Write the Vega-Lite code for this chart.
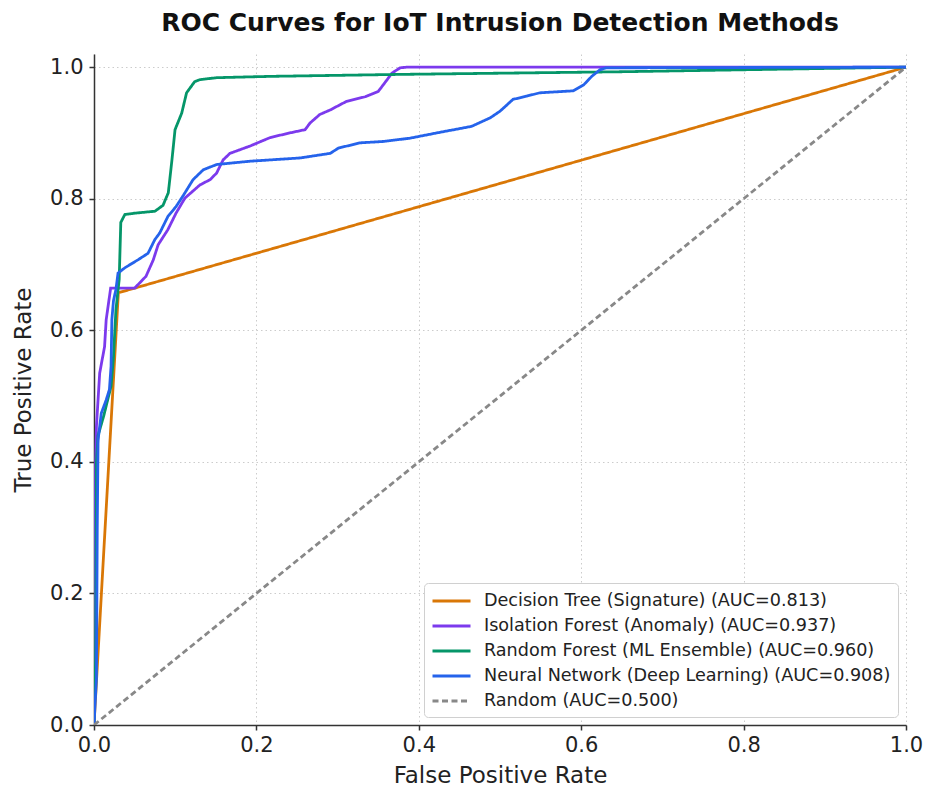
{
  "$schema": "https://vega.github.io/schema/vega-lite/v6.json",
  "width": 812,
  "height": 671,
  "autosize": {"type": "none"},
  "padding": {"left": 94, "top": 54, "right": 21, "bottom": 65},
  "background": "white",
  "config": {
    "view": {"stroke": null},
    "font": "DejaVu Sans",
    "axis": {
      "labelFont": "DejaVu Sans",
      "titleFont": "DejaVu Sans",
      "labelFontSize": 21,
      "titleFontSize": 23,
      "titleFontWeight": "normal",
      "labelColor": "#222",
      "titleColor": "#222",
      "labelFlush": false,
      "domainColor": "#333",
      "domainWidth": 1.5,
      "tickColor": "#333",
      "tickWidth": 1.5,
      "tickSize": 5,
      "gridColor": "#cccccc",
      "gridDash": [1.5, 3],
      "gridWidth": 1
    }
  },
  "title": {
    "text": "ROC Curves for IoT Intrusion Detection Methods",
    "font": "DejaVu Sans",
    "fontSize": 25,
    "fontWeight": "bold",
    "color": "#111",
    "anchor": "middle",
    "offset": 18
  },
  "data": {
    "values": [
      {"method": "Decision Tree (Signature) (AUC=0.813)", "k": 0, "fpr": 0, "tpr": 0},
      {"method": "Decision Tree (Signature) (AUC=0.813)", "k": 1, "fpr": 0.03, "tpr": 0.657},
      {"method": "Decision Tree (Signature) (AUC=0.813)", "k": 2, "fpr": 1, "tpr": 1},

      {"method": "Isolation Forest (Anomaly) (AUC=0.937)", "k": 0, "fpr": 0, "tpr": 0},
      {"method": "Isolation Forest (Anomaly) (AUC=0.937)", "k": 1, "fpr": 0.001, "tpr": 0.2},
      {"method": "Isolation Forest (Anomaly) (AUC=0.937)", "k": 2, "fpr": 0.002, "tpr": 0.4},
      {"method": "Isolation Forest (Anomaly) (AUC=0.937)", "k": 3, "fpr": 0.003, "tpr": 0.454},
      {"method": "Isolation Forest (Anomaly) (AUC=0.937)", "k": 4, "fpr": 0.007, "tpr": 0.535},
      {"method": "Isolation Forest (Anomaly) (AUC=0.937)", "k": 5, "fpr": 0.013, "tpr": 0.575},
      {"method": "Isolation Forest (Anomaly) (AUC=0.937)", "k": 6, "fpr": 0.015, "tpr": 0.616},
      {"method": "Isolation Forest (Anomaly) (AUC=0.937)", "k": 7, "fpr": 0.0205, "tpr": 0.664},
      {"method": "Isolation Forest (Anomaly) (AUC=0.937)", "k": 8, "fpr": 0.05, "tpr": 0.664},
      {"method": "Isolation Forest (Anomaly) (AUC=0.937)", "k": 9, "fpr": 0.064, "tpr": 0.682},
      {"method": "Isolation Forest (Anomaly) (AUC=0.937)", "k": 10, "fpr": 0.073, "tpr": 0.707},
      {"method": "Isolation Forest (Anomaly) (AUC=0.937)", "k": 11, "fpr": 0.079, "tpr": 0.73},
      {"method": "Isolation Forest (Anomaly) (AUC=0.937)", "k": 12, "fpr": 0.091, "tpr": 0.753},
      {"method": "Isolation Forest (Anomaly) (AUC=0.937)", "k": 13, "fpr": 0.101, "tpr": 0.778},
      {"method": "Isolation Forest (Anomaly) (AUC=0.937)", "k": 14, "fpr": 0.112, "tpr": 0.801},
      {"method": "Isolation Forest (Anomaly) (AUC=0.937)", "k": 15, "fpr": 0.1305, "tpr": 0.821},
      {"method": "Isolation Forest (Anomaly) (AUC=0.937)", "k": 16, "fpr": 0.143, "tpr": 0.829},
      {"method": "Isolation Forest (Anomaly) (AUC=0.937)", "k": 17, "fpr": 0.151, "tpr": 0.839},
      {"method": "Isolation Forest (Anomaly) (AUC=0.937)", "k": 18, "fpr": 0.159, "tpr": 0.859},
      {"method": "Isolation Forest (Anomaly) (AUC=0.937)", "k": 19, "fpr": 0.1675, "tpr": 0.869},
      {"method": "Isolation Forest (Anomaly) (AUC=0.937)", "k": 20, "fpr": 0.192, "tpr": 0.88},
      {"method": "Isolation Forest (Anomaly) (AUC=0.937)", "k": 21, "fpr": 0.217, "tpr": 0.893},
      {"method": "Isolation Forest (Anomaly) (AUC=0.937)", "k": 22, "fpr": 0.241, "tpr": 0.9},
      {"method": "Isolation Forest (Anomaly) (AUC=0.937)", "k": 23, "fpr": 0.26, "tpr": 0.905},
      {"method": "Isolation Forest (Anomaly) (AUC=0.937)", "k": 24, "fpr": 0.266, "tpr": 0.915},
      {"method": "Isolation Forest (Anomaly) (AUC=0.937)", "k": 25, "fpr": 0.278, "tpr": 0.928},
      {"method": "Isolation Forest (Anomaly) (AUC=0.937)", "k": 26, "fpr": 0.291, "tpr": 0.935},
      {"method": "Isolation Forest (Anomaly) (AUC=0.937)", "k": 27, "fpr": 0.311, "tpr": 0.948},
      {"method": "Isolation Forest (Anomaly) (AUC=0.937)", "k": 28, "fpr": 0.334, "tpr": 0.955},
      {"method": "Isolation Forest (Anomaly) (AUC=0.937)", "k": 29, "fpr": 0.35, "tpr": 0.963},
      {"method": "Isolation Forest (Anomaly) (AUC=0.937)", "k": 30, "fpr": 0.358, "tpr": 0.976},
      {"method": "Isolation Forest (Anomaly) (AUC=0.937)", "k": 31, "fpr": 0.367, "tpr": 0.991},
      {"method": "Isolation Forest (Anomaly) (AUC=0.937)", "k": 32, "fpr": 0.377, "tpr": 0.999},
      {"method": "Isolation Forest (Anomaly) (AUC=0.937)", "k": 33, "fpr": 0.385, "tpr": 1.0},
      {"method": "Isolation Forest (Anomaly) (AUC=0.937)", "k": 34, "fpr": 1, "tpr": 1},

      {"method": "Random Forest (ML Ensemble) (AUC=0.960)", "k": 0, "fpr": 0, "tpr": 0},
      {"method": "Random Forest (ML Ensemble) (AUC=0.960)", "k": 1, "fpr": 0.002, "tpr": 0.1},
      {"method": "Random Forest (ML Ensemble) (AUC=0.960)", "k": 2, "fpr": 0.003, "tpr": 0.4},
      {"method": "Random Forest (ML Ensemble) (AUC=0.960)", "k": 3, "fpr": 0.005, "tpr": 0.44},
      {"method": "Random Forest (ML Ensemble) (AUC=0.960)", "k": 4, "fpr": 0.012, "tpr": 0.47},
      {"method": "Random Forest (ML Ensemble) (AUC=0.960)", "k": 5, "fpr": 0.021, "tpr": 0.515},
      {"method": "Random Forest (ML Ensemble) (AUC=0.960)", "k": 6, "fpr": 0.024, "tpr": 0.56},
      {"method": "Random Forest (ML Ensemble) (AUC=0.960)", "k": 7, "fpr": 0.027, "tpr": 0.631},
      {"method": "Random Forest (ML Ensemble) (AUC=0.960)", "k": 8, "fpr": 0.031, "tpr": 0.677},
      {"method": "Random Forest (ML Ensemble) (AUC=0.960)", "k": 9, "fpr": 0.033, "tpr": 0.764},
      {"method": "Random Forest (ML Ensemble) (AUC=0.960)", "k": 10, "fpr": 0.038, "tpr": 0.776},
      {"method": "Random Forest (ML Ensemble) (AUC=0.960)", "k": 11, "fpr": 0.05, "tpr": 0.778},
      {"method": "Random Forest (ML Ensemble) (AUC=0.960)", "k": 12, "fpr": 0.075, "tpr": 0.781},
      {"method": "Random Forest (ML Ensemble) (AUC=0.960)", "k": 13, "fpr": 0.085, "tpr": 0.79},
      {"method": "Random Forest (ML Ensemble) (AUC=0.960)", "k": 14, "fpr": 0.0915, "tpr": 0.809},
      {"method": "Random Forest (ML Ensemble) (AUC=0.960)", "k": 15, "fpr": 0.096, "tpr": 0.859},
      {"method": "Random Forest (ML Ensemble) (AUC=0.960)", "k": 16, "fpr": 0.0998, "tpr": 0.905},
      {"method": "Random Forest (ML Ensemble) (AUC=0.960)", "k": 17, "fpr": 0.108, "tpr": 0.93},
      {"method": "Random Forest (ML Ensemble) (AUC=0.960)", "k": 18, "fpr": 0.114, "tpr": 0.961},
      {"method": "Random Forest (ML Ensemble) (AUC=0.960)", "k": 19, "fpr": 0.124, "tpr": 0.978},
      {"method": "Random Forest (ML Ensemble) (AUC=0.960)", "k": 20, "fpr": 0.1305, "tpr": 0.981},
      {"method": "Random Forest (ML Ensemble) (AUC=0.960)", "k": 21, "fpr": 0.151, "tpr": 0.984},
      {"method": "Random Forest (ML Ensemble) (AUC=0.960)", "k": 22, "fpr": 0.217, "tpr": 0.986},
      {"method": "Random Forest (ML Ensemble) (AUC=0.960)", "k": 23, "fpr": 0.377, "tpr": 0.989},
      {"method": "Random Forest (ML Ensemble) (AUC=0.960)", "k": 24, "fpr": 0.648, "tpr": 0.993},
      {"method": "Random Forest (ML Ensemble) (AUC=0.960)", "k": 25, "fpr": 1, "tpr": 1},

      {"method": "Neural Network (Deep Learning) (AUC=0.908)", "k": 0, "fpr": 0, "tpr": 0},
      {"method": "Neural Network (Deep Learning) (AUC=0.908)", "k": 1, "fpr": 0.003, "tpr": 0.07},
      {"method": "Neural Network (Deep Learning) (AUC=0.908)", "k": 2, "fpr": 0.004, "tpr": 0.3},
      {"method": "Neural Network (Deep Learning) (AUC=0.908)", "k": 3, "fpr": 0.005, "tpr": 0.433},
      {"method": "Neural Network (Deep Learning) (AUC=0.908)", "k": 4, "fpr": 0.009, "tpr": 0.474},
      {"method": "Neural Network (Deep Learning) (AUC=0.908)", "k": 5, "fpr": 0.015, "tpr": 0.494},
      {"method": "Neural Network (Deep Learning) (AUC=0.908)", "k": 6, "fpr": 0.019, "tpr": 0.51},
      {"method": "Neural Network (Deep Learning) (AUC=0.908)", "k": 7, "fpr": 0.021, "tpr": 0.545},
      {"method": "Neural Network (Deep Learning) (AUC=0.908)", "k": 8, "fpr": 0.022, "tpr": 0.616},
      {"method": "Neural Network (Deep Learning) (AUC=0.908)", "k": 9, "fpr": 0.024, "tpr": 0.645},
      {"method": "Neural Network (Deep Learning) (AUC=0.908)", "k": 10, "fpr": 0.027, "tpr": 0.662},
      {"method": "Neural Network (Deep Learning) (AUC=0.908)", "k": 11, "fpr": 0.0296, "tpr": 0.687},
      {"method": "Neural Network (Deep Learning) (AUC=0.908)", "k": 12, "fpr": 0.038, "tpr": 0.695},
      {"method": "Neural Network (Deep Learning) (AUC=0.908)", "k": 13, "fpr": 0.054, "tpr": 0.707},
      {"method": "Neural Network (Deep Learning) (AUC=0.908)", "k": 14, "fpr": 0.0665, "tpr": 0.717},
      {"method": "Neural Network (Deep Learning) (AUC=0.908)", "k": 15, "fpr": 0.075, "tpr": 0.738},
      {"method": "Neural Network (Deep Learning) (AUC=0.908)", "k": 16, "fpr": 0.081, "tpr": 0.748},
      {"method": "Neural Network (Deep Learning) (AUC=0.908)", "k": 17, "fpr": 0.091, "tpr": 0.773},
      {"method": "Neural Network (Deep Learning) (AUC=0.908)", "k": 18, "fpr": 0.101, "tpr": 0.788},
      {"method": "Neural Network (Deep Learning) (AUC=0.908)", "k": 19, "fpr": 0.11, "tpr": 0.805},
      {"method": "Neural Network (Deep Learning) (AUC=0.908)", "k": 20, "fpr": 0.122, "tpr": 0.829},
      {"method": "Neural Network (Deep Learning) (AUC=0.908)", "k": 21, "fpr": 0.1346, "tpr": 0.844},
      {"method": "Neural Network (Deep Learning) (AUC=0.908)", "k": 22, "fpr": 0.151, "tpr": 0.852},
      {"method": "Neural Network (Deep Learning) (AUC=0.908)", "k": 23, "fpr": 0.192, "tpr": 0.857},
      {"method": "Neural Network (Deep Learning) (AUC=0.908)", "k": 24, "fpr": 0.217, "tpr": 0.859},
      {"method": "Neural Network (Deep Learning) (AUC=0.908)", "k": 25, "fpr": 0.254, "tpr": 0.862},
      {"method": "Neural Network (Deep Learning) (AUC=0.908)", "k": 26, "fpr": 0.291, "tpr": 0.869},
      {"method": "Neural Network (Deep Learning) (AUC=0.908)", "k": 27, "fpr": 0.301, "tpr": 0.877},
      {"method": "Neural Network (Deep Learning) (AUC=0.908)", "k": 28, "fpr": 0.328, "tpr": 0.885},
      {"method": "Neural Network (Deep Learning) (AUC=0.908)", "k": 29, "fpr": 0.356, "tpr": 0.887},
      {"method": "Neural Network (Deep Learning) (AUC=0.908)", "k": 30, "fpr": 0.389, "tpr": 0.892},
      {"method": "Neural Network (Deep Learning) (AUC=0.908)", "k": 31, "fpr": 0.422, "tpr": 0.9},
      {"method": "Neural Network (Deep Learning) (AUC=0.908)", "k": 32, "fpr": 0.465, "tpr": 0.91},
      {"method": "Neural Network (Deep Learning) (AUC=0.908)", "k": 33, "fpr": 0.488, "tpr": 0.923},
      {"method": "Neural Network (Deep Learning) (AUC=0.908)", "k": 34, "fpr": 0.5, "tpr": 0.933},
      {"method": "Neural Network (Deep Learning) (AUC=0.908)", "k": 35, "fpr": 0.516, "tpr": 0.951},
      {"method": "Neural Network (Deep Learning) (AUC=0.908)", "k": 36, "fpr": 0.533, "tpr": 0.956},
      {"method": "Neural Network (Deep Learning) (AUC=0.908)", "k": 37, "fpr": 0.549, "tpr": 0.961},
      {"method": "Neural Network (Deep Learning) (AUC=0.908)", "k": 38, "fpr": 0.59, "tpr": 0.964},
      {"method": "Neural Network (Deep Learning) (AUC=0.908)", "k": 39, "fpr": 0.603, "tpr": 0.973},
      {"method": "Neural Network (Deep Learning) (AUC=0.908)", "k": 40, "fpr": 0.613, "tpr": 0.986},
      {"method": "Neural Network (Deep Learning) (AUC=0.908)", "k": 41, "fpr": 0.623, "tpr": 0.996},
      {"method": "Neural Network (Deep Learning) (AUC=0.908)", "k": 42, "fpr": 0.631, "tpr": 0.999},
      {"method": "Neural Network (Deep Learning) (AUC=0.908)", "k": 43, "fpr": 1, "tpr": 1},

      {"method": "Random (AUC=0.500)", "k": 0, "fpr": 0, "tpr": 0},
      {"method": "Random (AUC=0.500)", "k": 1, "fpr": 1, "tpr": 1}
    ]
  },
  "mark": {"type": "line", "clip": true},
  "encoding": {
    "x": {
      "field": "fpr",
      "type": "quantitative",
      "title": "False Positive Rate",
      "scale": {"domain": [0, 1], "nice": false, "zero": false},
      "axis": {"values": [0, 0.2, 0.4, 0.6, 0.8, 1.0], "format": ".1f", "titlePadding": 9, "labelPadding": 4}
    },
    "y": {
      "field": "tpr",
      "type": "quantitative",
      "title": "True Positive Rate",
      "scale": {"domain": [0, 1.02], "nice": false, "zero": false},
      "axis": {"values": [0, 0.2, 0.4, 0.6, 0.8, 1.0], "format": ".1f", "titlePadding": 14, "labelPadding": 6}
    },
    "order": {"field": "k", "type": "quantitative"},
    "color": {
      "field": "method",
      "type": "nominal",
      "scale": {
        "domain": [
          "Decision Tree (Signature) (AUC=0.813)",
          "Isolation Forest (Anomaly) (AUC=0.937)",
          "Random Forest (ML Ensemble) (AUC=0.960)",
          "Neural Network (Deep Learning) (AUC=0.908)",
          "Random (AUC=0.500)"
        ],
        "range": ["#d97706", "#7c3aed", "#059669", "#2563eb", "#888888"]
      },
      "legend": {
        "title": null,
        "orient": "bottom-right",
        "offset": 8,
        "labelFont": "DejaVu Sans",
        "labelFontSize": 17.6,
        "labelColor": "#222",
        "labelOffset": 31,
        "labelLimit": 600,
        "symbolType": "M-1,0H3",
        "symbolSize": 361,
        "rowPadding": 5,
        "padding": 7,
        "strokeColor": "#d0d0d0",
        "fillColor": "white",
        "cornerRadius": 4
      }
    },
    "strokeDash": {
      "field": "method",
      "type": "nominal",
      "scale": {
        "domain": [
          "Decision Tree (Signature) (AUC=0.813)",
          "Isolation Forest (Anomaly) (AUC=0.937)",
          "Random Forest (ML Ensemble) (AUC=0.960)",
          "Neural Network (Deep Learning) (AUC=0.908)",
          "Random (AUC=0.500)"
        ],
        "range": [[1, 0], [1, 0], [1, 0], [1, 0], [6, 3.5]]
      },
      "legend": {
        "title": null,
        "orient": "bottom-right",
        "offset": 8,
        "labelFont": "DejaVu Sans",
        "labelFontSize": 17.6,
        "labelColor": "#222",
        "labelOffset": 31,
        "labelLimit": 600,
        "symbolType": "M-1,0H3",
        "symbolSize": 361,
        "rowPadding": 5,
        "padding": 7,
        "strokeColor": "#d0d0d0",
        "fillColor": "white",
        "cornerRadius": 4
      }
    },
    "strokeWidth": {
      "field": "method",
      "type": "nominal",
      "scale": {
        "domain": [
          "Decision Tree (Signature) (AUC=0.813)",
          "Isolation Forest (Anomaly) (AUC=0.937)",
          "Random Forest (ML Ensemble) (AUC=0.960)",
          "Neural Network (Deep Learning) (AUC=0.908)",
          "Random (AUC=0.500)"
        ],
        "range": [2.8, 2.8, 2.8, 2.8, 1.6]
      },
      "legend": null
    }
  }
}
